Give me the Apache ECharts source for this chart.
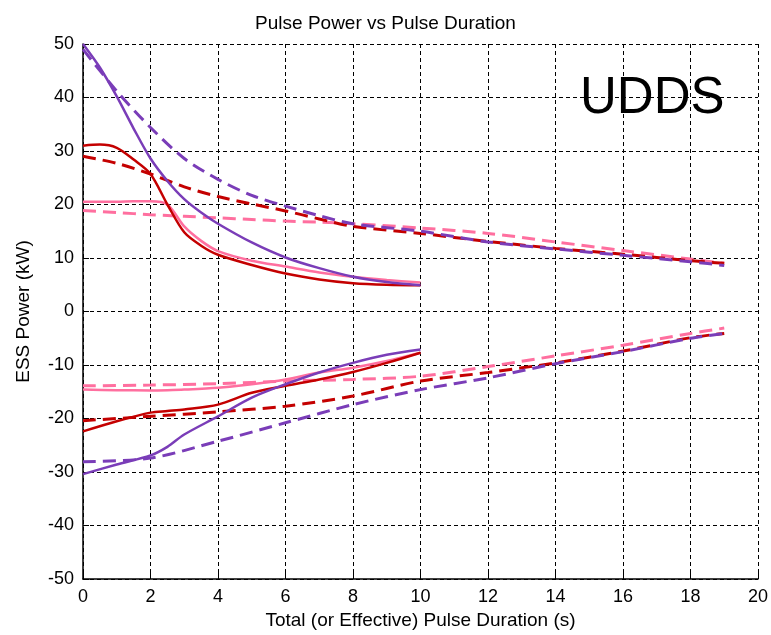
<!DOCTYPE html>
<html>
<head>
<meta charset="utf-8">
<script src="https://cdn.jsdelivr.net/npm/echarts@6/dist/echarts.min.js"></script>
<style>
  html, body { margin: 0; padding: 0; background: #fff; }
  #chart { width: 771px; height: 635px; }
</style>
</head>
<body>
<div id="chart"></div>
<script>
// x positions (s)
const xSolidUp = [0, 0.5, 1, 1.5, 2, 2.5, 3, 3.5, 4, 5, 6, 7, 8, 9, 10]
const xDashUp = [0, 1, 2, 3, 4, 5, 6, 7, 8, 10, 12, 14, 16, 18, 19]
const xSolidLow = [0, 1, 2, 2.5, 3, 4, 5, 6, 7, 8, 9, 10]
const xDashLow = [0, 2, 4, 6, 8, 10, 12, 14, 16, 18, 19]

// charge / discharge pulse power (kW)
const purpleSolidUp = [50, 45.6, 40.2, 34.2, 28.6, 24.4, 21, 18.5, 16.4, 12.9, 10.1, 8.1, 6.5, 5.5, 4.9]
const redSolidUp = [31, 31.2, 30.6, 28.4, 25.7, 20, 14.8, 12.3, 10.6, 8.7, 7.1, 6, 5.3, 5, 4.9]
const pinkSolidUp = [20.5, 20.5, 20.5, 20.6, 20.6, 20, 15.9, 13.2, 11.3, 9.5, 8.4, 7.3, 6.5, 5.9, 5.4]
const purpleDashUp = [49, 41.2, 34.4, 28.6, 24.7, 21.7, 19.7, 17.9, 16.4, 15, 13, 11.7, 10.5, 9.3, 8.6]
const redDashUp = [29, 27.7, 25.7, 23.3, 21.5, 20.1, 18.8, 17.3, 15.9, 14.6, 13.1, 11.8, 10.7, 9.5, 9]
const pinkDashUp = [18.9, 18.5, 18.1, 17.8, 17.5, 17.2, 16.9, 16.7, 16.4, 15.6, 14.6, 13, 11.4, 9.8, 9]

const purpleSolidLow = [-30.4, -28.6, -26.9, -25.3, -23, -19.6, -16.1, -13.6, -11.4, -9.6, -8.1, -7.1]
const redSolidLow = [-22.4, -20.5, -18.9, -18.6, -18.3, -17.4, -15.2, -13.9, -12.7, -11.3, -9.6, -7.7]
const pinkSolidLow = [-14.6, -14.7, -14.75, -14.7, -14.6, -14.25, -13.6, -12.7, -11.4, -10.5, -9.25, -7.7]
const pinkDashLow = [-13.9, -13.75, -13.5, -13, -12.7, -12.1, -10.3, -8.3, -6.3, -4.1, -3.1]
const redDashLow = [-20.4, -19.6, -18.75, -17.7, -15.8, -13, -11.4, -9.6, -7.4, -4.9, -4.1]
const purpleDashLow = [-28.1, -27.4, -24.25, -20.8, -17.4, -14.6, -12.4, -9.75, -7.5, -5, -4.1]

const PURPLE = '#7a3db8'
const RED = '#c40000'
const PINK = '#ff6f9f'
const FONT = 'Liberation Sans'

const zip = (xs, ys) => xs.map((x, i) => [x, ys[i]])

const line = (xs, ys, color, dashed) => ({
  type: 'line',
  data: zip(xs, ys),
  showSymbol: false,
  smooth: 0.3,
  silent: true,
  lineStyle: dashed
    ? { color, width: 3, type: [13, 7] }
    : { color, width: 2.5 }
})

const chart = echarts.init(document.getElementById('chart'))

chart.setOption({
  animation: false,
  backgroundColor: '#fff',
  title: {
    text: 'Pulse Power vs Pulse Duration',
    left: 'center',
    top: 9,
    textStyle: { fontFamily: FONT, fontSize: 19, fontWeight: 'normal', color: '#000' }
  },
  grid: { left: 83, right: 12, top: 44, bottom: 56 },
  xAxis: {
    type: 'value',
    min: 0,
    max: 20,
    interval: 2,
    name: 'Total (or Effective) Pulse Duration (s)',
    nameLocation: 'middle',
    nameGap: 32,
    nameTextStyle: { fontFamily: FONT, fontSize: 19, color: '#000' },
    axisLine: { onZero: false, lineStyle: { color: '#000', width: 1.5 } },
    axisTick: { inside: true, length: 6, lineStyle: { color: '#000' } },
    axisLabel: { fontFamily: FONT, fontSize: 18, color: '#000', margin: 9 },
    splitLine: { show: true, lineStyle: { color: '#000', width: 1, type: [4, 3] } }
  },
  yAxis: {
    type: 'value',
    min: -50,
    max: 50,
    interval: 10,
    name: 'ESS Power (kW)',
    nameLocation: 'middle',
    nameGap: 50,
    nameTextStyle: { fontFamily: FONT, fontSize: 19, color: '#000' },
    axisLine: { show: true, onZero: false, lineStyle: { color: '#000', width: 1.5 } },
    axisTick: { show: true, inside: true, length: 6, lineStyle: { color: '#000' } },
    axisLabel: { fontFamily: FONT, fontSize: 18, color: '#000', margin: 9 },
    splitLine: { show: true, lineStyle: { color: '#000', width: 1, type: [4, 3] } }
  },
  graphic: [{
    type: 'text',
    left: 580,
    top: 73,
    style: { text: 'UDDS', font: '51px "Liberation Sans"', fill: '#000' }
  }],
  series: [
    line(xDashUp, pinkDashUp, PINK, true),
    line(xDashUp, redDashUp, RED, true),
    line(xDashUp, purpleDashUp, PURPLE, true),
    line(xDashLow, pinkDashLow, PINK, true),
    line(xDashLow, redDashLow, RED, true),
    line(xDashLow, purpleDashLow, PURPLE, true),
    line(xSolidUp, pinkSolidUp, PINK, false),
    line(xSolidUp, redSolidUp, RED, false),
    line(xSolidUp, purpleSolidUp, PURPLE, false),
    line(xSolidLow, pinkSolidLow, PINK, false),
    line(xSolidLow, redSolidLow, RED, false),
    line(xSolidLow, purpleSolidLow, PURPLE, false)
  ]
})
</script>
</body>
</html>
